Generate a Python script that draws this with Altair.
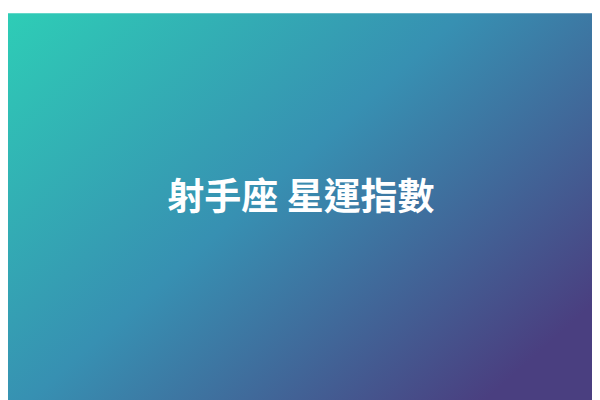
import altair as alt
import pandas as pd

title_text = ["射手座 星運指數"]
gradient_colors = ["#2ecdb6", "#3790b2", "#4a3f80"]

W, H = 600, 400

bg = alt.Chart(pd.DataFrame({"a": [0]})).mark_rect(
    color=alt.Gradient(
        gradient="linear",
        stops=[
            alt.GradientStop(color=gradient_colors[0], offset=0),
            alt.GradientStop(color=gradient_colors[1], offset=0.5),
            alt.GradientStop(color=gradient_colors[2], offset=1),
        ],
        x1=0, y1=0, x2=1, y2=0.75,
    )
).encode(
    x=alt.value(0), x2=alt.value(W), y=alt.value(0), y2=alt.value(H)
)

txt = alt.Chart(pd.DataFrame({"t": title_text})).mark_text(
    font="Noto Sans CJK TC",
    fontSize=38,
    fontWeight="bold",
    color="white",
    align="center",
    baseline="middle",
).encode(
    text="t:N",
    x=alt.value(W / 2 + 1),
    y=alt.value(H / 2 - 9),
)

chart = (bg + txt).properties(width=W, height=H, padding=0).configure_view(
    strokeWidth=0
)

chart.save("out.html", embed_options={"renderer": "svg", "actions": False})
